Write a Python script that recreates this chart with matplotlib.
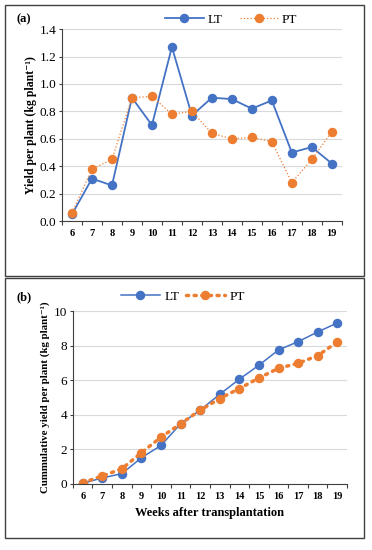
import matplotlib
matplotlib.use('Agg')
import matplotlib.pyplot as plt
from matplotlib.patches import Rectangle

# weeks after transplantation
weeks = ['6', '7', '8', '9', '10', '11', '12', '13', '14', '15', '16', '17', '18', '19']

# (a) yield per plant, kg
lt_yield = [0.05, 0.31, 0.26, 0.90, 0.70, 1.27, 0.77, 0.90, 0.89, 0.82, 0.88, 0.50, 0.54, 0.42]
pt_yield = [0.06, 0.38, 0.45, 0.90, 0.91, 0.78, 0.80, 0.64, 0.60, 0.61, 0.58, 0.28, 0.45, 0.65]

# (b) cumulative yield per plant, kg
lt_cum = [0.04, 0.35, 0.60, 1.52, 2.23, 3.48, 4.27, 5.19, 6.06, 6.87, 7.75, 8.23, 8.79, 9.31]
pt_cum = [0.08, 0.46, 0.88, 1.81, 2.71, 3.48, 4.27, 4.94, 5.52, 6.13, 6.69, 6.98, 7.42, 8.21]

blue = '#4472C4'
orange = '#ED7D31'

plt.rcParams['font.family'] = ['Liberation Serif', 'DejaVu Serif']
plt.rcParams['font.size'] = 8

fig = plt.figure(figsize=(3.72, 5.5), dpi=100)

# panel frames
fig.patches.append(Rectangle((0.0134, 0.498), 0.965, 0.493, transform=fig.transFigure,
                             fill=False, edgecolor='#404040', linewidth=1.0))
fig.patches.append(Rectangle((0.0134, 0.022), 0.965, 0.4725, transform=fig.transFigure,
                             fill=False, edgecolor='#404040', linewidth=1.0))

x = range(len(weeks))


def style_axis(ax):
    ax.set_xlim(-0.5, len(weeks) - 0.5)
    ax.set_xticks(list(x))
    ax.set_xticklabels(weeks, fontweight='bold', fontsize=7.5)
    ax.set_xticks([i - 0.5 for i in range(len(weeks) + 1)], minor=True)
    ax.tick_params(axis='x', which='major', length=0, pad=6)
    ax.tick_params(axis='x', which='minor', length=3, width=0.8, color='#404040')
    ax.tick_params(axis='y', length=2, width=0.8, color='#404040', labelsize=9.5, pad=2)
    ax.grid(axis='y', color='#d9d9d9', linewidth=0.8)
    ax.set_axisbelow(True)
    for s in ['top', 'right']:
        ax.spines[s].set_visible(False)
    ax.spines['left'].set_color('#404040')
    ax.spines['bottom'].set_color('#404040')


# (a)
ax1 = fig.add_axes([0.1667, 0.598, 0.752, 0.349])
l1, = ax1.plot(x, lt_yield, color=blue, marker='o', markersize=5.8, linewidth=1.3)
l2, = ax1.plot(x, pt_yield, color=orange, marker='o', markersize=5.8, linewidth=0.9, linestyle=':')
ax1.set_ylim(0, 1.4)
ax1.set_yticks([0, 0.2, 0.4, 0.6, 0.8, 1.0, 1.2, 1.4])
ax1.set_yticklabels(['0.0', '0.2', '0.4', '0.6', '0.8', '1.0', '1.2', '1.4'])
ax1.set_ylabel('Yield per plant (kg plant\u207b\u00b9)', fontweight='bold', fontsize=8.5, labelpad=2)
style_axis(ax1)
ax1.legend(handles=[l1, l2], labels=['LT', 'PT'], loc='lower center', bbox_to_anchor=(0.605, 0.975),
           ncol=2, frameon=False, fontsize=9.5, handlelength=2.9, handletextpad=0.3,
           columnspacing=1.3, borderaxespad=0.2)
fig.text(0.045, 0.965, '(a)', fontweight='bold', fontsize=9, va='center')

# (b)
ax2 = fig.add_axes([0.196, 0.12, 0.737, 0.3145])
l3, = ax2.plot(x, lt_cum, color=blue, marker='o', markersize=5.8, linewidth=1.1)
l4, = ax2.plot(x, pt_cum, color=orange, marker='o', markersize=5.8, linewidth=2.5,
               linestyle=(0, (0.6, 1.6)), dash_capstyle='round')
ax2.set_ylim(0, 10)
ax2.set_yticks([0, 2, 4, 6, 8, 10])
ax2.set_ylabel('Cummulative yield per plant (kg plant\u207b\u00b9)', fontweight='bold', fontsize=7.8, labelpad=3)
ax2.set_xlabel('Weeks after transplantation', fontweight='bold', fontsize=9, labelpad=4)
style_axis(ax2)
ax2.legend(handles=[l3, l4], labels=['LT', 'PT'], loc='lower center', bbox_to_anchor=(0.4, 1.0),
           ncol=2, frameon=False, fontsize=9.5, handlelength=3.0, handletextpad=0.3,
           columnspacing=0.5, borderaxespad=0.2)
fig.text(0.045, 0.46, '(b)', fontweight='bold', fontsize=9, va='center')

fig.savefig('out.png', dpi=100)
